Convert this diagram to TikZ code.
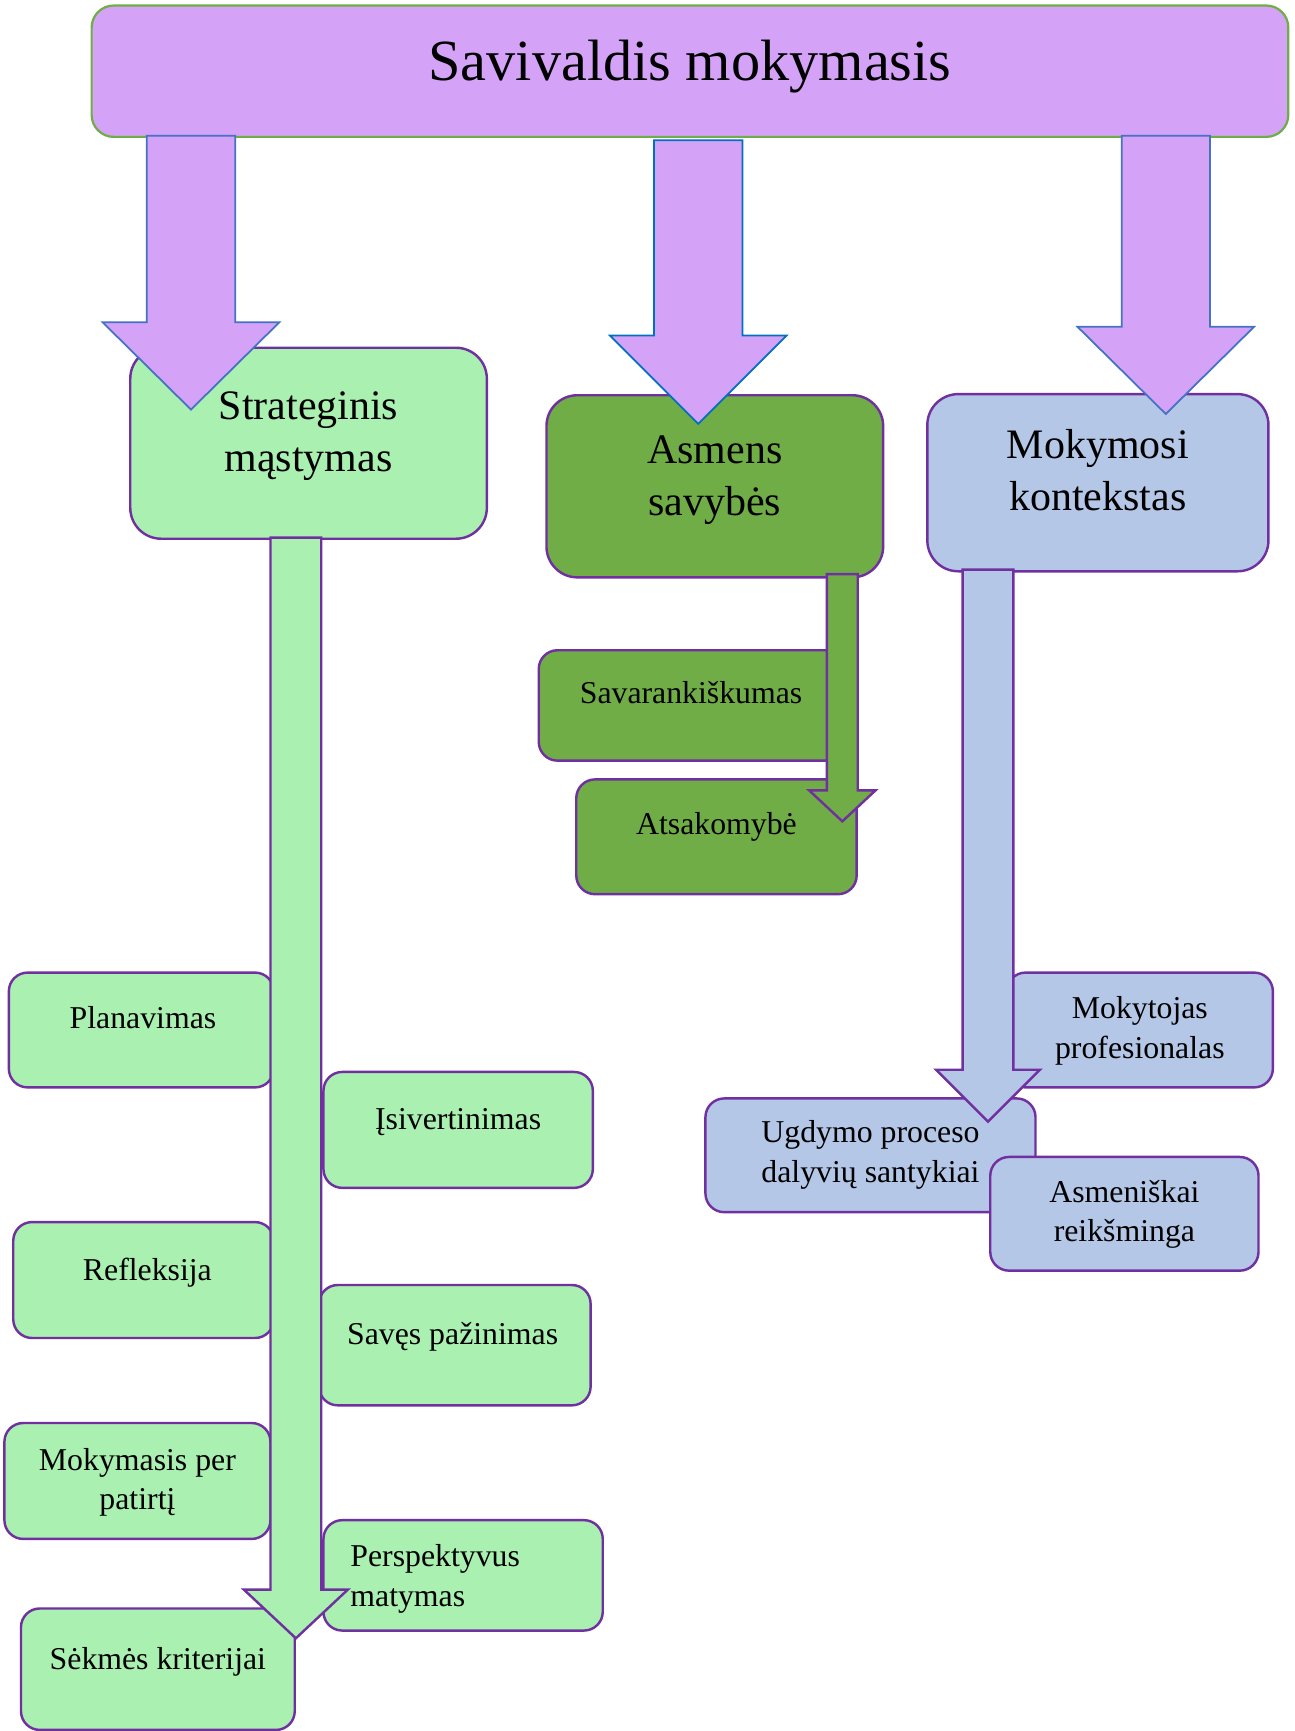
\documentclass[tikz,border=0pt]{standalone}
\usepackage{fontspec}
\setmainfont{Liberation Serif}
\definecolor{lavender}{HTML}{D4A2F7}
\definecolor{topedge}{HTML}{70AD47}
\definecolor{arrowblue}{HTML}{4472C4}
\definecolor{arrowcyan}{HTML}{0070C0}
\definecolor{boxedge}{HTML}{7030A0}
\definecolor{mint}{HTML}{AAF0B1}
\definecolor{leaf}{HTML}{70AD47}
\definecolor{sky}{HTML}{B4C7E7}
\tikzset{lavbox/.style={draw=topedge, fill=lavender, line width=1pt, rounded corners=10pt, inner sep=0pt},
catbox/.style={draw=boxedge, line width=1.1pt, rounded corners=14pt, inner sep=0pt},
itembox/.style={draw=boxedge, line width=1.1pt, rounded corners=8.5pt, inner sep=0pt},
titletext/.style={anchor=base, inner sep=0pt, font=\fontsize{26.4}{31}\selectfont},
cattext/.style={anchor=base, inner sep=0pt, align=center, font=\fontsize{19}{23.5}\selectfont},
itemtext/.style={anchor=base, inner sep=0pt, align=center, font=\fontsize{14.4}{17.8}\selectfont},
toparrow/.style={fill=lavender, draw=arrowblue, line width=0.8pt},
colarrow/.style={draw=boxedge, line width=1.1pt}}

\begin{document}
\begin{tikzpicture}[x=0.5pt,y=-0.5pt]
\useasboundingbox (0,0) rectangle (1173,1568);
\node[lavbox, minimum width=542pt, minimum height=59.5pt] (top) at (625,64.5) {};
\node[titletext] (topT) at ([yshift=-4pt]top.center) {Savivaldis mokymasis};
\node[catbox, fill=mint, minimum width=161.5pt, minimum height=86.5pt] (strat) at (279.5,401.5) {};
\node[cattext] (stratT) at ([yshift=-12.6pt]strat.center) {Strateginis\\mąstymas};
\node[catbox, fill=leaf, minimum width=152.5pt, minimum height=82.5pt] (asm) at (647.5,440.5) {};
\node[cattext] (asmT) at ([yshift=-13pt]asm.center) {Asmens\\savybės};
\node[catbox, fill=sky, minimum width=154.5pt, minimum height=80.25pt] (mok) at (994.5,437.25) {};
\node[cattext] (mokT) at ([yshift=-12.6pt]mok.center) {Mokymosi\\kontekstas};
\filldraw[toparrow] (133,123) -- (133,292) -- (93,292) -- (173,371) -- (253,292) -- (213,292) -- (213,123) -- cycle;
\filldraw[toparrow, draw=arrowcyan] (592.5,127) -- (592.5,304) -- (552.5,304) -- (632.5,384) -- (712.5,304) -- (672.5,304) -- (672.5,127) -- cycle;
\filldraw[toparrow] (1016,123) -- (1016,296) -- (976,296) -- (1056,375) -- (1136,296) -- (1096,296) -- (1096,123) -- cycle;

\node[itembox, fill=mint, minimum width=120pt, minimum height=52pt] (plan) at (128,933) {};
\node[itemtext] (planT) at ([xshift=0.75pt,yshift=0.5pt]plan.center) {Planavimas};
\node[itembox, fill=mint, minimum width=122pt, minimum height=52.5pt] (isv) at (415,1023.5) {};
\node[itemtext] (isvT) at (isv.center) {Įsivertinimas};
\node[itembox, fill=mint, minimum width=118pt, minimum height=52.5pt] (refl) at (130,1159.5) {};
\node[itemtext] (reflT) at ([xshift=1.75pt]refl.center) {Refleksija};
\node[itembox, fill=mint, minimum width=123pt, minimum height=54.5pt] (pazin) at (412,1218.5) {};
\node[itemtext] (pazinT) at ([xshift=-1pt,yshift=0.5pt]pazin.center) {Savęs pažinimas};
\node[itembox, fill=mint, minimum width=120.5pt, minimum height=52.5pt] (patirt) at (124.5,1341.5) {};
\node[itemtext] (patirtT) at ([yshift=-13.1pt]patirt.center) {Mokymasis per\\patirtį};
\node[itembox, fill=mint, minimum width=126.5pt, minimum height=50pt] (persp) at (419.5,1427) {};
\node[itemtext, anchor=base west, align=left] (perspT) at ([xshift=-51.25pt,yshift=-14pt]persp.center) {Perspektyvus\\matymas};
\node[itembox, fill=mint, minimum width=124pt, minimum height=55pt] (sekm) at (143,1512) {};
\node[itemtext] (sekmT) at (sekm.center) {Sėkmės kriterijai};
\filldraw[colarrow, fill=mint] (245,487) -- (245,1440) -- (221,1440) -- (268,1484) -- (315,1440) -- (291,1440) -- (291,487) -- cycle;

\node[itembox, fill=leaf, minimum width=138pt, minimum height=50pt] (savar) at (626,639) {};
\node[itemtext] (savarT) at ([yshift=1.1pt]savar.center) {Savarankiškumas};
\node[itembox, fill=leaf, minimum width=127pt, minimum height=52pt] (atsak) at (649,758) {};
\node[itemtext] (atsakT) at ([yshift=0.85pt]atsak.center) {Atsakomybė};
\filldraw[colarrow, fill=leaf] (749,520) -- (749,716) -- (733,716) -- (763,744) -- (793,716) -- (777,716) -- (777,520) -- cycle;

\node[itembox, fill=sky, minimum width=120.5pt, minimum height=52pt] (mokyt) at (1032.5,933) {};
\node[itemtext] (mokytT) at ([yshift=-12.75pt]mokyt.center) {Mokytojas\\profesionalas};
\node[itembox, fill=sky, minimum width=149.5pt, minimum height=51.5pt] (ugd) at (788.5,1046.5) {};
\node[itemtext] (ugdT) at ([yshift=-12.1pt]ugd.center) {Ugdymo proceso\\dalyvių santykiai};
\node[itembox, fill=sky, minimum width=121.5pt, minimum height=51.5pt] (asmen) at (1018.5,1099.5) {};
\node[itemtext] (asmenT) at ([yshift=-12.75pt]asmen.center) {Asmeniškai\\reikšminga};
\filldraw[colarrow, fill=sky] (872,516) -- (872,969) -- (848,969) -- (895,1016) -- (942,969) -- (918,969) -- (918,516) -- cycle;
\end{tikzpicture}
\end{document}
